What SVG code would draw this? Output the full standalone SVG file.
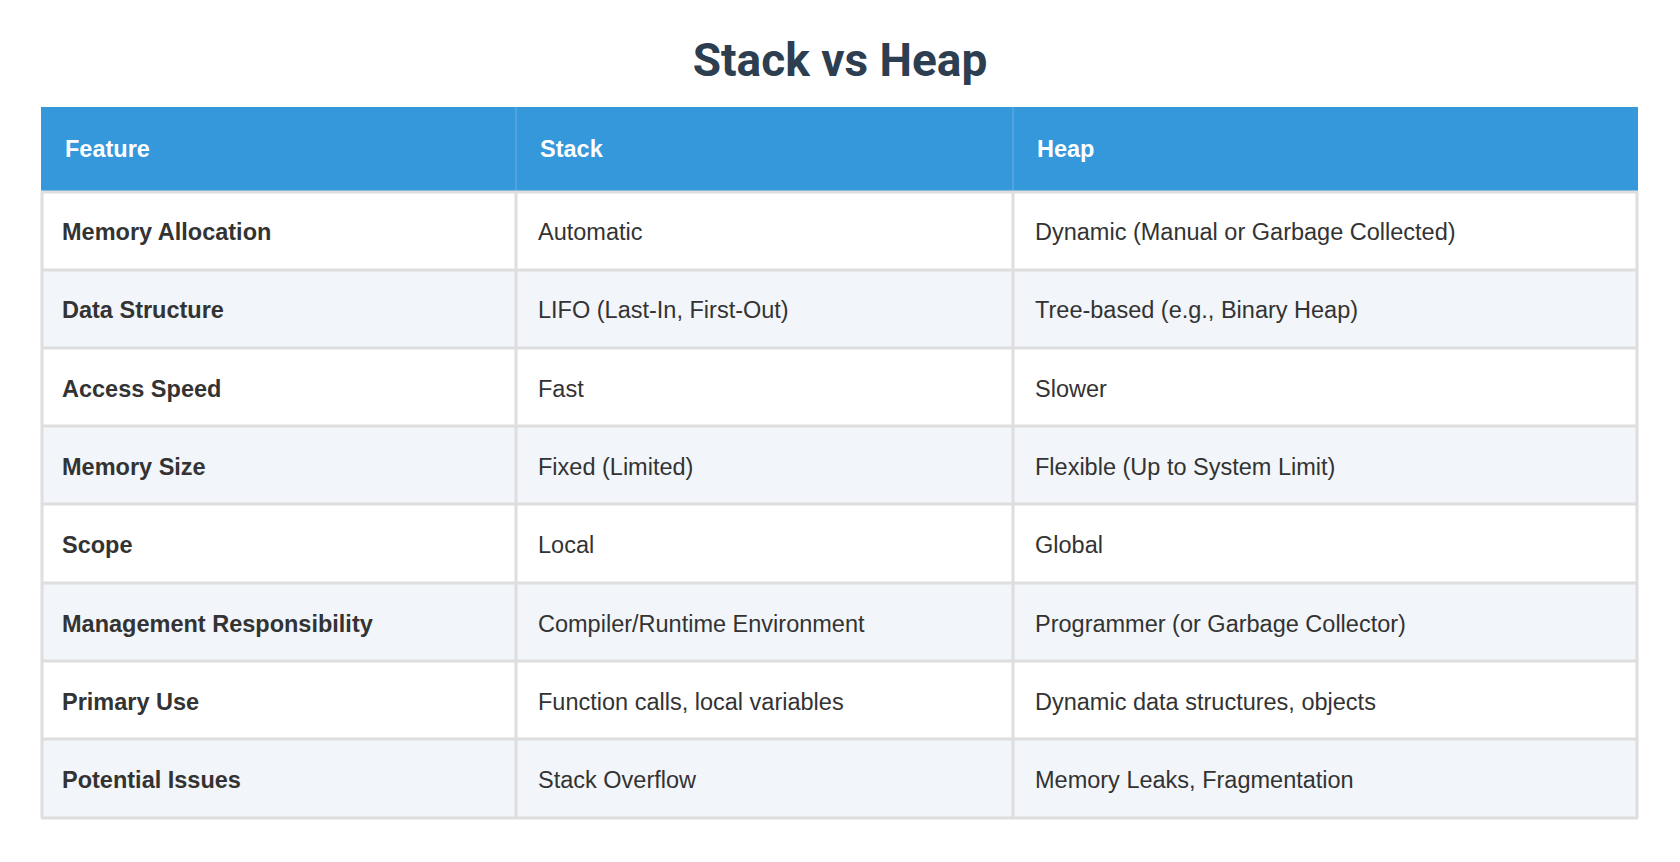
<svg xmlns="http://www.w3.org/2000/svg" width="1680" height="862" viewBox="0 0 1680 862">
<style>
.t{font-family:Roboto,"Liberation Sans",sans-serif;font-weight:bold;font-size:46px;fill:#2c3e50}
.h{font-family:"Liberation Sans",Arial,sans-serif;font-weight:bold;font-size:23.5px;fill:#fff}
.f{font-family:"Liberation Sans",Arial,sans-serif;font-weight:bold;font-size:23.5px;fill:#333}
.c{font-family:"Liberation Sans",Arial,sans-serif;font-size:23.5px;fill:#333}
.g{stroke:#dedede;stroke-width:3;fill:none}
</style>
<rect width="1680" height="862" fill="#fff"/>
<text class="t" x="840" y="76" text-anchor="middle">Stack vs Heap</text>
<g id="table">
<rect x="41" y="107" width="1597" height="85" fill="#3498db"/>
<line x1="516" y1="107" x2="516" y2="192" stroke="#5aa7de" stroke-width="1.5"/>
<line x1="1013" y1="107" x2="1013" y2="192" stroke="#5aa7de" stroke-width="1.5"/>
<text class="h" x="65" y="157">Feature</text>
<text class="h" x="540" y="157">Stack</text>
<text class="h" x="1037" y="157">Heap</text>
<rect x="41" y="270" width="1597" height="78" fill="#f2f5f9"/>
<rect x="41" y="426" width="1597" height="78" fill="#f2f5f9"/>
<rect x="41" y="583" width="1597" height="78" fill="#f2f5f9"/>
<rect x="41" y="739" width="1597" height="79" fill="#f2f5f9"/>
<g class="g">
<line x1="41" y1="192" x2="1638" y2="192"/>
<line x1="41" y1="270" x2="1638" y2="270"/>
<line x1="41" y1="348" x2="1638" y2="348"/>
<line x1="41" y1="426" x2="1638" y2="426"/>
<line x1="41" y1="504" x2="1638" y2="504"/>
<line x1="41" y1="583" x2="1638" y2="583"/>
<line x1="41" y1="661" x2="1638" y2="661"/>
<line x1="41" y1="739" x2="1638" y2="739"/>
<line x1="42" y1="192" x2="42" y2="818"/>
<line x1="516" y1="192" x2="516" y2="818"/>
<line x1="1013" y1="192" x2="1013" y2="818"/>
<line x1="1637" y1="192" x2="1637" y2="818"/>
<line x1="41" y1="818" x2="1638" y2="818"/>
</g>
<g id="r1"><text class="f" x="62" y="240">Memory Allocation</text><text class="c" x="538" y="240">Automatic</text><text class="c" x="1035" y="240">Dynamic (Manual or Garbage Collected)</text></g>
<g id="r2"><text class="f" x="62" y="318">Data Structure</text><text class="c" x="538" y="318">LIFO (Last-In, First-Out)</text><text class="c" x="1035" y="318">Tree-based (e.g., Binary Heap)</text></g>
<g id="r3"><text class="f" x="62" y="397">Access Speed</text><text class="c" x="538" y="397">Fast</text><text class="c" x="1035" y="397">Slower</text></g>
<g id="r4"><text class="f" x="62" y="475">Memory Size</text><text class="c" x="538" y="475">Fixed (Limited)</text><text class="c" x="1035" y="475">Flexible (Up to System Limit)</text></g>
<g id="r5"><text class="f" x="62" y="553">Scope</text><text class="c" x="538" y="553">Local</text><text class="c" x="1035" y="553">Global</text></g>
<g id="r6"><text class="f" x="62" y="632">Management Responsibility</text><text class="c" x="538" y="632">Compiler/Runtime Environment</text><text class="c" x="1035" y="632">Programmer (or Garbage Collector)</text></g>
<g id="r7"><text class="f" x="62" y="710">Primary Use</text><text class="c" x="538" y="710">Function calls, local variables</text><text class="c" x="1035" y="710">Dynamic data structures, objects</text></g>
<g id="r8"><text class="f" x="62" y="788">Potential Issues</text><text class="c" x="538" y="788">Stack Overflow</text><text class="c" x="1035" y="788">Memory Leaks, Fragmentation</text></g>
</g>
</svg>
